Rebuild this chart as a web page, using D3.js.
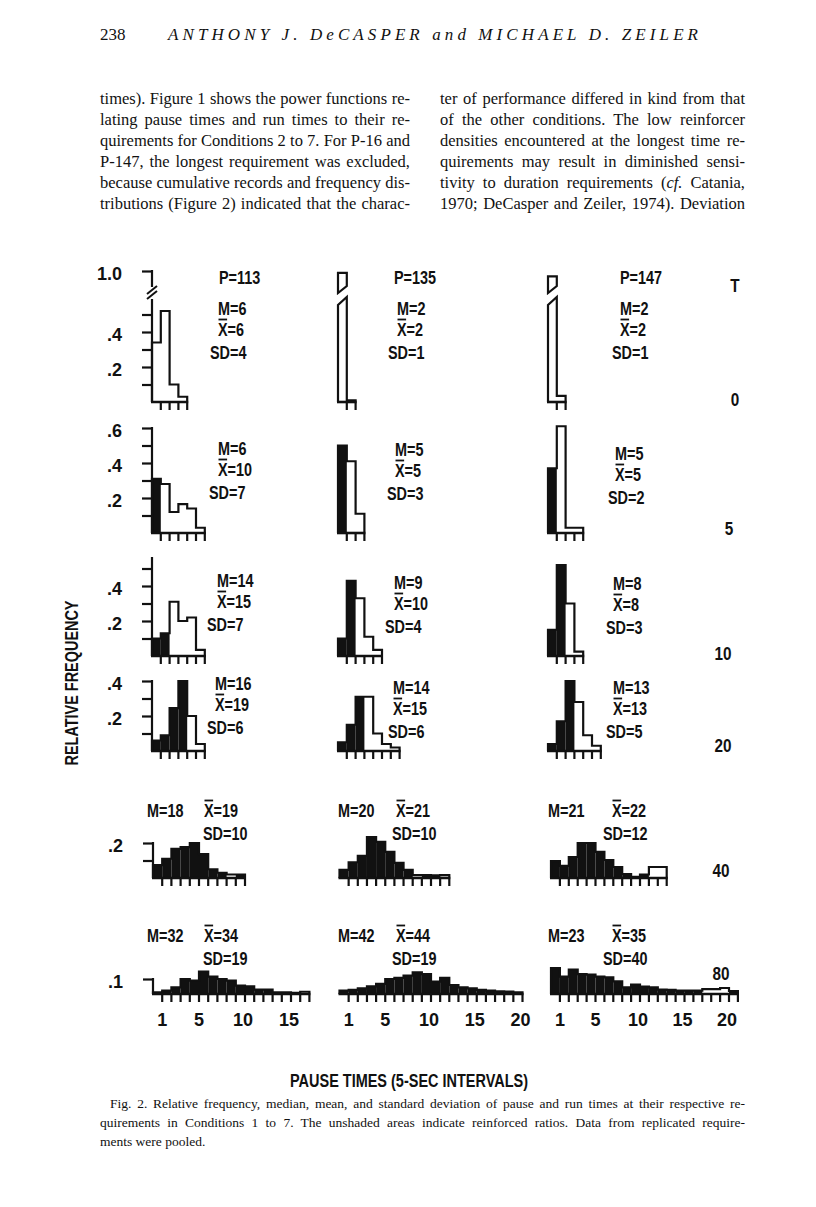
<!DOCTYPE html>
<html><head><meta charset="utf-8">
<script src="https://cdn.jsdelivr.net/npm/d3@7"></script>
<style>body{margin:0;background:#fff}</style>
</head><body>
<svg id="c" width="816" height="1207"></svg>
<script>
// ================= DATA =================
const subjects = ["P=113", "P=135", "P=147"];
const conditionLabels = ["T", "0", "5", "10", "20", "40", "80"];

// relative frequency per 5-sec pause interval; *_shaded: 1 = shaded (unreinforced), 0 = unshaded
const p113_T  = [0.34, 0.52, 0.10, 0.03];
const p113_T_shaded = [0, 0, 0, 0];
const p135_T  = [0.99, 0.01];
const p135_T_shaded = [0, 0];
const p147_T  = [0.97, 0.035];
const p147_T_shaded = [0, 0];

const p113_5  = [0.31, 0.28, 0.12, 0.165, 0.14, 0.03];
const p113_5_shaded = [1, 0, 0, 0, 0, 0];
const p135_5  = [0.50, 0.41, 0.11];
const p135_5_shaded = [1, 0, 0];
const p147_5  = [0.37, 0.61, 0.03, 0.03];
const p147_5_shaded = [1, 0, 0, 0];

const p113_10 = [0.10, 0.13, 0.31, 0.20, 0.22, 0.035];
const p113_10_shaded = [1, 1, 0, 0, 0, 0];
const p135_10 = [0.10, 0.43, 0.33, 0.11, 0.035];
const p135_10_shaded = [1, 1, 0, 0, 0];
const p147_10 = [0.15, 0.52, 0.30, 0.025];
const p147_10_shaded = [1, 1, 0, 0];

const p113_20 = [0.06, 0.09, 0.245, 0.40, 0.20, 0.04];
const p113_20_shaded = [1, 1, 1, 1, 0, 0];
const p135_20 = [0.05, 0.15, 0.31, 0.31, 0.10, 0.04, 0.02];
const p135_20_shaded = [1, 1, 1, 0, 0, 0, 0];
const p147_20 = [0.04, 0.17, 0.40, 0.28, 0.09, 0.03];
const p147_20_shaded = [1, 1, 1, 0, 0, 0];

const p113_40 = [0.074, 0.11, 0.166, 0.177, 0.20, 0.137, 0.05, 0.03, 0.02, 0.02];
const p113_40_shaded = [1, 1, 1, 1, 1, 1, 1, 1, 0, 1];
const p135_40 = [0.046, 0.09, 0.126, 0.234, 0.206, 0.149, 0.086, 0.046, 0.017, 0.017, 0.015, 0.017];
const p135_40_shaded = [1, 1, 1, 1, 1, 1, 1, 1, 0, 1, 1, 0];
const p147_40 = [0.097, 0.069, 0.12, 0.20, 0.20, 0.149, 0.103, 0.063, 0.023, 0.006, 0.02, 0.063, 0.063];
const p147_40_shaded = [1, 1, 1, 1, 1, 1, 1, 1, 1, 1, 1, 0, 0];

const p113_80 = [0.011, 0.022, 0.044, 0.10, 0.089, 0.149, 0.116, 0.10, 0.089, 0.056, 0.051, 0.029, 0.029, 0.011, 0.011, 0.007, 0.015];
const p113_80_shaded = [1, 1, 1, 1, 1, 1, 1, 1, 1, 1, 1, 1, 1, 1, 1, 1, 0];
const p135_80 = [0.022, 0.027, 0.038, 0.051, 0.067, 0.10, 0.107, 0.122, 0.144, 0.133, 0.082, 0.107, 0.06, 0.044, 0.038, 0.027, 0.022, 0.018, 0.016, 0.011];
const p135_80_shaded = [1, 1, 1, 1, 1, 1, 1, 1, 1, 1, 1, 1, 1, 1, 1, 1, 1, 1, 1, 1];
const p147_80 = [0.173, 0.116, 0.162, 0.133, 0.129, 0.116, 0.111, 0.084, 0.044, 0.062, 0.049, 0.044, 0.029, 0.027, 0.022, 0.022, 0.022, 0.033, 0.033, 0.04, 0.02];
const p147_80_shaded = [1, 1, 1, 1, 1, 1, 1, 1, 1, 1, 1, 1, 1, 1, 1, 1, 1, 0, 0, 0, 1];

// median, mean, SD (rows: T, 5, 10, 20, 40, 80)
const medianP113 = [6, 6, 14, 16, 18, 32];
const meanP113   = [6, 10, 15, 19, 19, 34];
const sdP113     = [4, 7, 7, 6, 10, 19];
const medianP135 = [2, 5, 9, 14, 20, 42];
const meanP135   = [2, 5, 10, 15, 21, 44];
const sdP135     = [1, 3, 4, 6, 10, 19];
const medianP147 = [2, 5, 8, 13, 21, 23];
const meanP147   = [2, 5, 8, 13, 22, 35];
const sdP147     = [1, 2, 3, 5, 12, 40];

// y ticks / labels of left axis, per row
const yTicksT  = [0.1, 0.2, 0.3, 0.4, 0.5, 1.0];
const yLabelsT = [1.0, 0.4, 0.2];
const yTicks5  = [0.1, 0.2, 0.3, 0.4, 0.5, 0.6];
const yLabels5 = [0.6, 0.4, 0.2];
const yTicks10 = [0.1, 0.2, 0.3, 0.4, 0.5];
const yLabels10 = [0.4, 0.2];
const yTicks20 = [0.1, 0.2, 0.3, 0.4];
const yLabels20 = [0.4, 0.2];
const yTicks40 = [0.1, 0.2];
const yLabels40 = [0.2];
const yTicks80 = [0.1];
const yLabels80 = [0.1];

// x tick labels (5-sec intervals), bottom row
const xLabelsP113 = [1, 5, 10, 15];
const xLabelsP135 = [1, 5, 10, 15, 20];
const xLabelsP147 = [1, 5, 10, 15, 20];

const headerPage = "238";
const headerAuthors = "ANTHONY J. DeCASPER and MICHAEL D. ZEILER";
const bodyLeft = [
  "times). Figure 1 shows the power functions re-",
  "lating pause times and run times to their re-",
  "quirements for Conditions 2 to 7. For P-16 and",
  "P-147, the longest requirement was excluded,",
  "because cumulative records and frequency dis-",
  "tributions (Figure 2) indicated that the charac-"
];
const bodyRight = [
  "ter of performance differed in kind from that",
  "of the other conditions. The low reinforcer",
  "densities encountered at the longest time re-",
  "quirements may result in diminished sensi-",
  "tivity to duration requirements (cf. Catania,",
  "1970; DeCasper and Zeiler, 1974). Deviation"
];
const captionLines = [
  "Fig. 2. Relative frequency, median, mean, and standard deviation of pause and run times at their respective re-",
  "quirements in Conditions 1 to 7. The unshaded areas indicate reinforced ratios. Data from replicated require-",
  "ments were pooled."
];
const yTitle = "RELATIVE FREQUENCY";
const xTitle = "PAUSE TIMES (5-SEC INTERVALS)";

// ================= BUILD =================
const svg = d3.select("#c");
const narrow = "'Liberation Sans Narrow','Arial Narrow','Liberation Sans',sans-serif";
const sans = "'Liberation Sans',Arial,sans-serif";
const serif = "'Liberation Serif','Times New Roman',serif";
const ink = "#111";

const panelVals = [
  [p113_T, p135_T, p147_T],
  [p113_5, p135_5, p147_5],
  [p113_10, p135_10, p147_10],
  [p113_20, p135_20, p147_20],
  [p113_40, p135_40, p147_40],
  [p113_80, p135_80, p147_80]
];
const panelShaded = [
  [p113_T_shaded, p135_T_shaded, p147_T_shaded],
  [p113_5_shaded, p135_5_shaded, p147_5_shaded],
  [p113_10_shaded, p135_10_shaded, p147_10_shaded],
  [p113_20_shaded, p135_20_shaded, p147_20_shaded],
  [p113_40_shaded, p135_40_shaded, p147_40_shaded],
  [p113_80_shaded, p135_80_shaded, p147_80_shaded]
];
const medians = [medianP113, medianP135, medianP147];
const means = [meanP113, meanP135, meanP147];
const sds = [sdP113, sdP135, sdP147];
const yTickSets = [yTicksT, yTicks5, yTicks10, yTicks20, yTicks40, yTicks80];
const yLabelSets = [yLabelsT, yLabels5, yLabels10, yLabels20, yLabels40, yLabels80];
const xLabelSets = [xLabelsP113, xLabelsP135, xLabelsP147];

// layout
const rowBase = [402, 533, 656, 751, 878, 994];
const rowK = [175, 175, 175, 175, 175, 150];
const axisTopVal = [1.0, 0.6, 0.56, 0.4, 0.2, 0.1];
function colX0(row, col) { return row < 4 ? [152, 338, 548][col] : [153, 339.5, 551][col]; }
function binW(row, col) { return row < 4 ? 8.8 : [9.2, 9.15, 8.9][col]; }
function yScaleFor(row) {
  if (row === 0) return d3.scaleLinear().domain([0, 0.6, 0.9, 1.0]).range([402, 297, 289, 271]);
  return d3.scaleLinear().domain([0, 1]).range([rowBase[row], rowBase[row] - rowK[row]]);
}
const BRK = { lowL: 305, lowR: 297, highL: 293, highR: 286 };

// condensed text helper: squeeze glyphs horizontally
function squeeze(t, f) {
  const L = t.node().getComputedTextLength();
  t.attr("textLength", L * f).attr("lengthAdjust", "spacingAndGlyphs");
  return t;
}

function drawPanel(row, col) {
  const vals = panelVals[row][col], sh = panelShaded[row][col];
  const n = vals.length;
  const x0 = colX0(row, col), w = binW(row, col);
  const x = d3.scaleLinear().domain([0, n]).range([x0, x0 + n * w]);
  const y = yScaleFor(row);
  const base = y(0);
  const g = svg.append("g");
  const broken = (v) => row === 0 && v > 0.6;

  // shaded bins
  g.selectAll("rect").data(vals.map((v, i) => ({ v, i, s: sh[i] })).filter(d => d.s && !broken(d.v)))
    .join("rect")
    .attr("x", d => x(d.i)).attr("width", d => x(d.i + 1) - x(d.i))
    .attr("y", d => y(d.v)).attr("height", d => base - y(d.v))
    .attr("fill", ink);

  // outline (step path)
  const p = d3.path();
  p.moveTo(x(0), base);
  vals.forEach((v, i) => {
    if (broken(v)) {
      p.lineTo(x(i), BRK.lowL);
      p.lineTo(x(i + 1), BRK.lowR);
    } else {
      p.lineTo(x(i), y(v));
      p.lineTo(x(i + 1), y(v));
    }
  });
  p.lineTo(x(n), base);
  vals.forEach((v, i) => {
    if (broken(v)) {
      p.moveTo(x(i), BRK.highL);
      p.lineTo(x(i), y(v));
      p.lineTo(x(i + 1), y(v));
      p.lineTo(x(i + 1), BRK.highR);
      p.closePath();
    }
  });
  g.append("path").attr("d", p.toString()).attr("fill", "none")
    .attr("stroke", ink).attr("stroke-width", 2.2).attr("stroke-linejoin", "miter");

  // baseline
  g.append("line").attr("x1", x(0) - 1).attr("x2", x(n) + 1).attr("y1", base).attr("y2", base)
    .attr("stroke", ink).attr("stroke-width", 2.6);
  // hanging ticks at right edge of every bin
  g.selectAll("line.tk").data(d3.range(1, n + 1)).join("line").attr("class", "tk")
    .attr("x1", d => x(d)).attr("x2", d => x(d))
    .attr("y1", base).attr("y2", base + 8)
    .attr("stroke", ink).attr("stroke-width", 2.2);

  // bottom row x labels
  if (row === 5) {
    g.selectAll("text.xl").data(xLabelSets[col]).join("text").attr("class", "xl")
      .attr("x", d => x(d) - (d >= 10 ? 2 : 0)).attr("y", 1026)
      .attr("text-anchor", "middle").attr("font-family", sans).attr("font-weight", "bold")
      .attr("font-size", 18).attr("fill", ink).text(d => d);
  }

  // left y axis in first column
  if (col === 0) {
    const labels = yLabelSets[row];
    const fmt = d => d === 1 ? "1.0" : "." + Math.round(d * 10);
    const ax = d3.axisLeft(y).tickValues(yTickSets[row]).tickSize(10).tickSizeOuter(0).tickPadding(20)
      .tickFormat(d => labels.includes(d) ? fmt(d) : "");
    const ag = svg.append("g").attr("transform", `translate(${x0},0)`).call(ax);
    ag.select(".domain").remove();
    ag.selectAll(".tick line").attr("stroke", ink).attr("stroke-width", 2.2);
    ag.selectAll(".tick text").attr("font-family", sans).attr("font-weight", "bold")
      .attr("font-size", 18).attr("fill", ink).attr("dy", "0.45em");
    if (row === 0) {
      ag.append("line").attr("x1", 0).attr("x2", 0).attr("y1", base).attr("y2", 299).attr("stroke", ink).attr("stroke-width", 2.2);
      ag.append("line").attr("x1", 0).attr("x2", 0).attr("y1", y(1.0) - 1).attr("y2", 287).attr("stroke", ink).attr("stroke-width", 2.2);
      ag.append("line").attr("x1", -5).attr("x2", 5).attr("y1", 299).attr("y2", 291).attr("stroke", ink).attr("stroke-width", 2);
      ag.append("line").attr("x1", -5).attr("x2", 5).attr("y1", 294).attr("y2", 286).attr("stroke", ink).attr("stroke-width", 2);
    } else {
      ag.append("line").attr("x1", 0).attr("x2", 0).attr("y1", base).attr("y2", y(axisTopVal[row]) - 1)
        .attr("stroke", ink).attr("stroke-width", 2.2);
    }
  }
}

for (let r = 0; r < 6; r++) for (let c = 0; c < 3; c++) drawPanel(r, c);

// ----- stats text -----
const FS = 18, CAP = 13, SQ = 0.8;
function stat(x, yc, str, overX) {
  const t = svg.append("text").attr("x", x).attr("y", yc + CAP / 2)
    .attr("font-family", narrow).attr("font-weight", "bold").attr("font-size", FS)
    .attr("fill", ink).text(str);
  squeeze(t, SQ);
  if (overX) {
    const e = t.node().getExtentOfChar(0);
    svg.append("line").attr("x1", e.x + 0.5).attr("x2", e.x + e.width - 0.5)
      .attr("y1", yc - CAP / 2 - 3).attr("y2", yc - CAP / 2 - 3)
      .attr("stroke", ink).attr("stroke-width", 1.8);
  }
  return t;
}
// P labels
const pLeft = [219, 394, 620];
subjects.forEach((s, c) => stat(pLeft[c], 277, s, false));
// rows 0-3 (stacked)
const mLeft = [[218, 397, 620], [218, 395, 615], [217, 394, 613], [215, 393, 613]];
const sdLeft = [[210, 388, 612], [209, 387, 608], [207, 385, 606], [207, 388, 606]];
const mY = [[308, 308, 308], [448, 449, 453], [580, 582, 583], [683, 687, 687]];
for (let r = 0; r < 4; r++) for (let c = 0; c < 3; c++) {
  stat(mLeft[r][c], mY[r][c], "M=" + medians[c][r], false);
  stat(mLeft[r][c], mY[r][c] + 21, "X=" + means[c][r], true);
  stat(sdLeft[r][c], mY[r][c] + 44, "SD=" + sds[c][r], false);
}
// rows 4-5
const mL2 = [147, 338, 548], xL2 = [204, 396, 612], sdL2 = [203, 392, 603];
const rY2 = [810, 935];
for (let r = 4; r < 6; r++) for (let c = 0; c < 3; c++) {
  const yy = rY2[r - 4];
  stat(mL2[c], yy, "M=" + medians[c][r], false);
  stat(xL2[c], yy, "X=" + means[c][r], true);
  stat(sdL2[c], yy + 23, "SD=" + sds[c][r], false);
}

// condition labels on right
const condPos = [[735, 285], [735, 399], [729, 528], [723, 653], [723, 745], [721, 870], [721, 973]];
conditionLabels.forEach((s, i) => {
  const t = svg.append("text").attr("x", condPos[i][0]).attr("y", condPos[i][1] + CAP / 2)
    .attr("text-anchor", "middle").attr("font-family", narrow).attr("font-weight", "bold")
    .attr("font-size", FS).attr("fill", ink).text(s);
  squeeze(t, 0.85);
});

// axis titles
svg.append("text").attr("transform", "translate(78,683) rotate(-90)")
  .attr("text-anchor", "middle").attr("font-family", narrow).attr("font-weight", "bold")
  .attr("font-size", 18).attr("fill", ink)
  .attr("textLength", 165).attr("lengthAdjust", "spacingAndGlyphs").text(yTitle);
svg.append("text").attr("x", 290).attr("y", 1087)
  .attr("font-family", narrow).attr("font-weight", "bold").attr("font-size", 18).attr("fill", ink)
  .attr("textLength", 238).attr("lengthAdjust", "spacingAndGlyphs").text(xTitle);

// header
svg.append("text").attr("x", 100).attr("y", 40).attr("font-family", serif).attr("font-size", 17)
  .attr("fill", ink).text(headerPage);
svg.append("text").attr("x", 168).attr("y", 40).attr("font-family", serif).attr("font-size", 17)
  .attr("font-style", "italic").attr("fill", ink)
  .attr("textLength", 530).attr("lengthAdjust", "spacing").text(headerAuthors);

// body text, justified by word spacing
function textLine(x, y, w, str, size, justify) {
  const t = svg.append("text").attr("x", x).attr("y", y).attr("font-family", serif)
    .attr("font-size", size).attr("fill", ink);
  str.split(/(cf\.)/).forEach(part => {
    if (!part) return;
    const ts = t.append("tspan").text(part);
    if (part === "cf.") ts.attr("font-style", "italic");
  });
  if (justify) {
    const L = t.node().getComputedTextLength();
    const spaces = (str.match(/ /g) || []).length;
    if (spaces > 0) t.attr("word-spacing", (w - L) / spaces);
  }
}
bodyLeft.forEach((s, i) => textLine(100, 104 + i * 21, 310, s, 16.5, true));
bodyRight.forEach((s, i) => textLine(440, 104 + i * 21, 305, s, 16.5, true));

// caption
textLine(110, 1108, 635, captionLines[0], 13.5, true);
textLine(100, 1127, 645, captionLines[1], 13.5, true);
textLine(100, 1146, 0, captionLines[2], 13.5, false);
</script>
</body></html>
